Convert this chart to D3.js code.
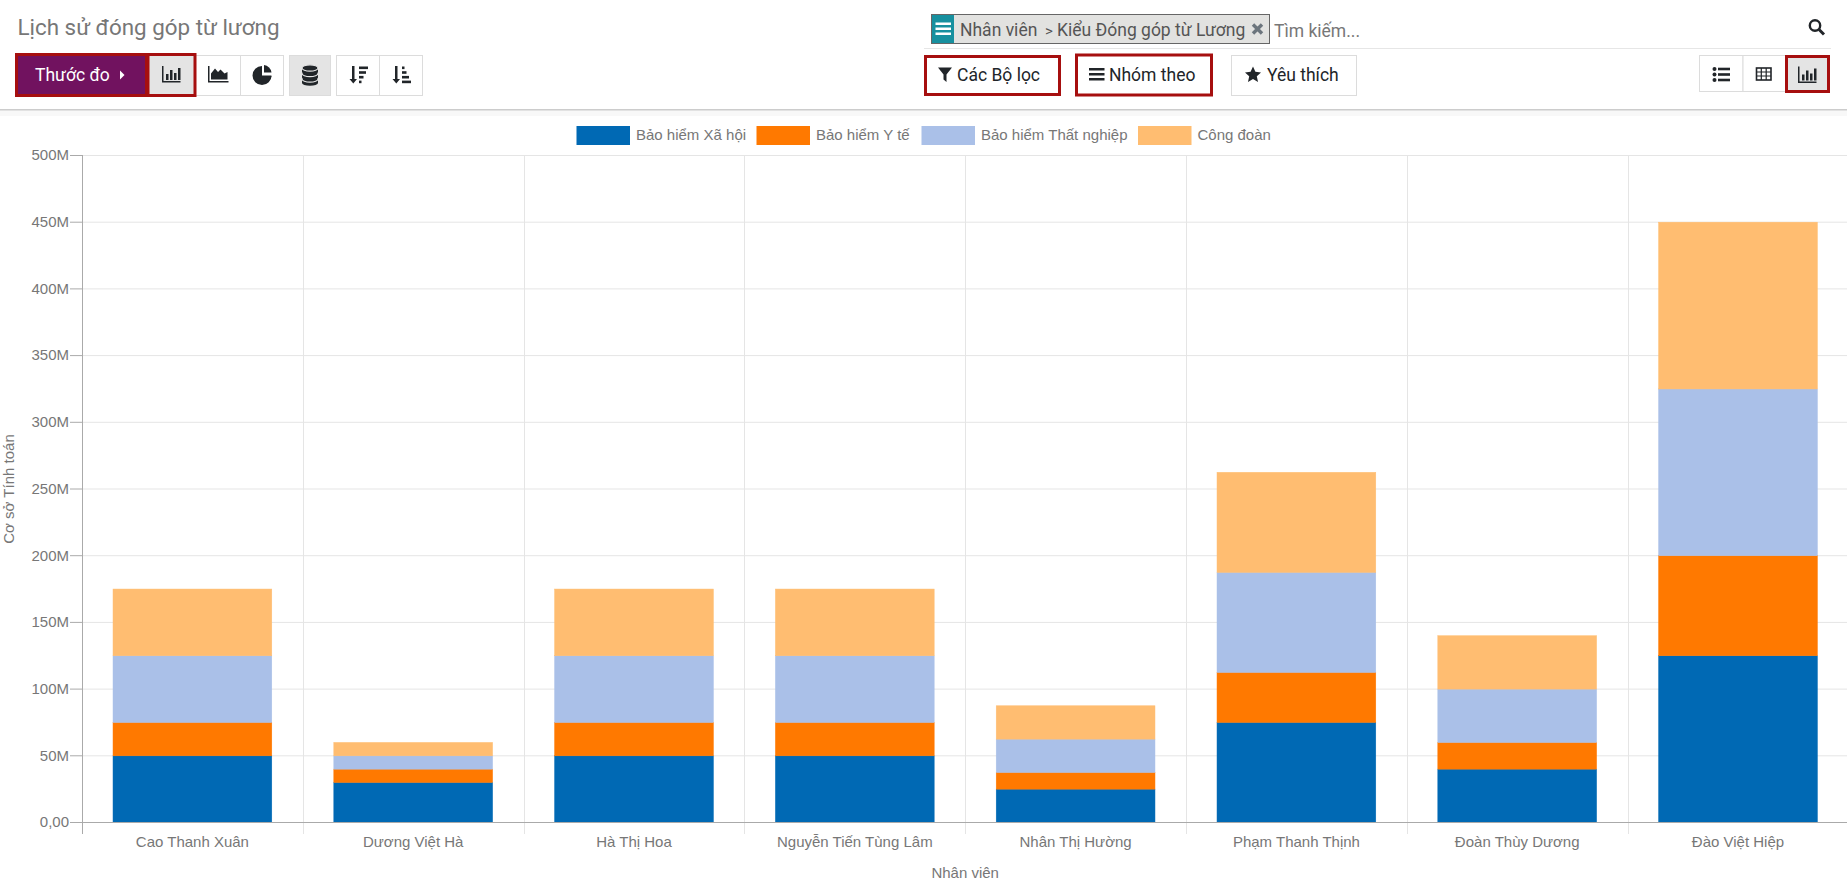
<!DOCTYPE html>
<html>
<head>
<meta charset="utf-8">
<title>Lịch sử đóng góp từ lương</title>
<script src="https://d3js.org/d3.v7.min.js"></script>
<style>
    html, body { margin: 0; padding: 0; background: #fff; overflow: hidden; }
    svg { display: block; }
    .ui { font-family: Roboto, sans-serif; }
    .chart text { font-family: "Liberation Sans", Arial, sans-serif; font-size: 15px; fill: #777; }
    .grid line { stroke: #e5e5e5; }
    .grid path { stroke: none; }
    .axis path, .axis line { stroke: #aaa; }
</style>
</head>
<body>
<div id="chart"></div>
<script>
var categories = ['Cao Thanh Xuân', 'Dương Việt Hà', 'Hà Thị Hoa', 'Nguyễn Tiến Tùng Lâm',
    'Nhân Thị Hường', 'Phạm Thanh Thịnh', 'Đoàn Thùy Dương', 'Đào Việt Hiệp'];
var seriesNames = ['Bảo hiểm Xã hội', 'Bảo hiểm Y tế', 'Bảo hiểm Thất nghiệp', 'Công đoàn'];
var socialInsurance = [50, 30, 50, 50, 25, 75, 40, 125];
var healthInsurance = [25, 10, 25, 25, 12.5, 37.5, 20, 75];
var unemploymentInsurance = [50, 10, 50, 50, 25, 75, 40, 125];
var tradeUnion = [50, 10, 50, 50, 25, 75, 40, 125];
var seriesColors = ['#0069b4', '#ff7900', '#aac0e8', '#ffbd71'];
var yTicks = [0, 50, 100, 150, 200, 250, 300, 350, 400, 450, 500];
var yTitle = 'Cơ sở Tính toán';
var xTitle = 'Nhân viên';

var width = 1847,
    height = 886,
    margin = { top: 155, left: 82, bottom: 64 },
    step = 220.8;

var svg = d3.select('#chart').append('svg')
    .attr('width', width)
    .attr('height', height);

// ---- chart ----
var chartHeight = height - margin.top - margin.bottom;

var xScale = d3.scaleBand()
    .domain(categories)
    .range([0, step * categories.length])
    .paddingInner(0.281)
    .paddingOuter(0.1405);

var bandAxis = d3.scaleBand()
    .domain(categories)
    .range([0, step * categories.length]);

var yScale = d3.scaleLinear()
    .domain([0, 500])
    .range([chartHeight, 0]);

var chartG = svg.append('g')
    .attr('class', 'chart')
    .attr('transform', 'translate(' + margin.left + ',' + margin.top + ')');

// horizontal grid
chartG.append('g')
    .attr('class', 'grid')
    .call(d3.axisLeft(yScale).tickValues(yTicks).tickSize(-step * categories.length).tickFormat(''));

// vertical grid, sits on the band edges
chartG.append('g')
    .attr('class', 'grid')
    .selectAll('line')
    .data(categories)
    .enter()
    .append('line')
    .attr('x1', function (d) { return Math.round(bandAxis(d)) + 0.5; })
    .attr('x2', function (d) { return Math.round(bandAxis(d)) + 0.5; })
    .attr('y1', 0)
    .attr('y2', chartHeight + 12);

// stacks
var rows = categories.map(function (c, i) {
    var row = { name: c };
    row[seriesNames[0]] = socialInsurance[i];
    row[seriesNames[1]] = healthInsurance[i];
    row[seriesNames[2]] = unemploymentInsurance[i];
    row[seriesNames[3]] = tradeUnion[i];
    return row;
});
var stacked = d3.stack().keys(seriesNames)(rows);

// half a pixel down so bar tops line up with the grid lines
chartG.append('g')
    .attr('transform', 'translate(0,0.5)')
    .selectAll('g')
    .data(stacked)
    .enter()
    .append('g')
    .attr('fill', function (d, i) { return seriesColors[i]; })
    .attr('stroke', function (d, i) { return seriesColors[i]; })
    .selectAll('rect')
    .data(function (d) { return d; })
    .enter()
    .append('rect')
    .attr('x', function (d) { return xScale(d.data.name); })
    .attr('y', function (d) { return yScale(d[1]); })
    .attr('width', xScale.bandwidth())
    .attr('height', function (d) { return yScale(d[0]) - yScale(d[1]); })
    .attr('stroke-width', 0.5);

// axes
var yAxisG = chartG.append('g')
    .attr('class', 'axis')
    .call(d3.axisLeft(yScale)
        .tickValues(yTicks)
        .tickSize(12)
        .tickPadding(1)
        .tickFormat(function (d) { return d === 0 ? '0,00' : d + 'M'; }));
yAxisG.selectAll('text').attr('dy', '0.32em');
yAxisG.select('.domain').attr('d', 'M0.5,0V' + (chartHeight + 12));

var xAxisG = chartG.append('g')
    .attr('class', 'axis')
    .attr('transform', 'translate(0,' + chartHeight + ')')
    .call(d3.axisBottom(bandAxis).tickSize(0).tickPadding(14));
xAxisG.select('.domain').attr('d', 'M0,0.5H' + (step * categories.length));

chartG.append('text')
    .attr('transform', 'translate(-68,' + (chartHeight / 2 + 0.5) + ') rotate(-90)')
    .attr('text-anchor', 'middle')
    .text(yTitle);

chartG.append('text')
    .attr('x', step * categories.length / 2)
    .attr('y', chartHeight + 56)
    .attr('text-anchor', 'middle')
    .text(xTitle);

// ---- legend ----
var legendSwatchX = [576.5, 756.5, 921.5, 1138];
var legendG = svg.append('g').attr('class', 'chart');
legendG.selectAll('rect')
    .data(seriesNames)
    .enter()
    .append('rect')
    .attr('x', function (d, i) { return legendSwatchX[i]; })
    .attr('y', 126)
    .attr('width', 53.5)
    .attr('height', 19)
    .attr('fill', function (d, i) { return seriesColors[i]; });
legendG.selectAll('text')
    .data(seriesNames)
    .enter()
    .append('text')
    .attr('x', function (d, i) { return legendSwatchX[i] + 59.5; })
    .attr('y', 140)
    .text(function (d) { return d; });

// ---- control panel ----
var ui = svg.append('g').attr('class', 'ui');
var dark = '#212529', red = '#a60f0f', line = '#dcdcdc', active = '#e4e4e4';

function box(x, y, w, h, fill, stroke, sw) {
    return ui.append('rect')
        .attr('x', x).attr('y', y).attr('width', w).attr('height', h)
        .attr('fill', fill).attr('stroke', stroke).attr('stroke-width', sw || 1);
}
function label(x, y, str, size, color) {
    return ui.append('text')
        .attr('x', x).attr('y', y)
        .attr('font-size', size).attr('fill', color)
        .text(str);
}
function shape(d, color) {
    return ui.append('path').attr('d', d).attr('fill', color || dark);
}
function barIcon(x, y) {
    shape('M' + x + ',' + y + 'h1.5v15h17v1.5h-18.5z' +
        'M' + (x + 4) + ',' + (y + 8) + 'h2.5v6h-2.5z' +
        'M' + (x + 8) + ',' + (y + 4) + 'h2.5v10h-2.5z' +
        'M' + (x + 12) + ',' + (y + 7) + 'h2.5v7h-2.5z' +
        'M' + (x + 16) + ',' + (y + 2) + 'h2.5v12h-2.5z');
}
function hamburger(x, y, w, color) {
    shape('M' + x + ',' + y + 'h' + w + 'v2.5h-' + w + 'z' +
        'M' + x + ',' + (y + 5) + 'h' + w + 'v2.5h-' + w + 'z' +
        'M' + x + ',' + (y + 10) + 'h' + w + 'v2.5h-' + w + 'z', color);
}
function sortIcon(x, y, desc) {
    shape('M' + (x + 2) + ',' + y + 'h2.5v13h2.5l-3.7,4.5l-3.8,-4.5h2.5z');
    var widths = desc ? [9, 7, 4.5, 2.5] : [2.5, 4.5, 7, 9];
    widths.forEach(function (w, i) {
        ui.append('rect').attr('x', x + 9).attr('y', y + i * 4.7 + 0.5)
            .attr('width', w).attr('height', 2.6).attr('fill', dark);
    });
}

label(17.5, 35, 'Lịch sử đóng góp từ lương', 22.4, '#777');

// header separators
ui.append('rect').attr('x', 0).attr('y', 110).attr('width', width).attr('height', 6).attr('fill', '#f8f8f8');
ui.append('rect').attr('x', 0).attr('y', 109).attr('width', width).attr('height', 1.5).attr('fill', '#ccc');
ui.append('rect').attr('x', 924).attr('y', 48).attr('width', 907).attr('height', 1).attr('fill', '#e6e6e6');

// left toolbar
box(194.5, 55.5, 46, 40, '#fff', line);
box(240.5, 55.5, 43, 40, '#fff', line);
box(289.5, 55.5, 41, 40, active, line);
box(336.5, 55.5, 43, 40, '#fff', line);
box(379.5, 55.5, 43, 40, '#fff', line);
box(148, 54.5, 47, 41, active, red, 3);
box(16.5, 54.5, 130, 41, '#71125f', red, 3);
label(35, 80.5, 'Thước đo', 17.5, '#fff');
shape('M120,70.5l4.5,4.5l-4.5,4.5z', '#fff');
barIcon(162, 66);

// area icon
shape('M208,66h1.5v15h19v1.5h-20.5z' +
    'M211,79.5v-6l4,-5l3,3.5l2.5,-2.5l4,4l3,-1.5v7.5z');

// pie icon
shape('M262,66a9.5,9.5 0 1 0 9.5,9.5h-9.5z');
shape('M264,65a8.5,8.5 0 0 1 7.5,7.5h-7.5z');
shape('M266,76h5.5a8.5,8.5 0 0 1 -2,4.5z');

// stack icon, drawn bottom layer first so each disc leaves a pale gap
[11, 5.5, 0].forEach(function (dy) {
    ui.append('rect').attr('x', 302).attr('y', 68 + dy).attr('width', 16).attr('height', 4).attr('fill', dark);
    ui.append('ellipse').attr('cx', 310).attr('cy', 72 + dy).attr('rx', 8).attr('ry', 2.8).attr('fill', dark);
    ui.append('ellipse').attr('cx', 310).attr('cy', 68 + dy).attr('rx', 8).attr('ry', 3.2)
        .attr('fill', dark).attr('stroke', active).attr('stroke-width', 1.2);
});
sortIcon(350, 66, true);
sortIcon(393, 66, false);

// search facet
box(931.5, 14.5, 338, 29, '#e2e2e0', '#666');
box(932, 15, 22, 28, '#17909f', 'none');
hamburger(935.5, 22.5, 15.5, '#fff');
label(960, 35.5, 'Nhân viên', 17.5, '#555');
label(1045, 35.5, '>', 15, '#555');
label(1057, 35.5, 'Kiểu Đóng góp từ Lương', 17.5, '#555');
ui.append('path').attr('d', 'M1253,24.5l9,9M1262,24.5l-9,9')
    .attr('stroke', '#6c757d').attr('stroke-width', 3.4).attr('fill', 'none');
label(1274, 36.5, 'Tìm kiếm...', 17.5, '#777');

// search icon
ui.append('circle').attr('cx', 1815).attr('cy', 25.5).attr('r', 5.2)
    .attr('fill', 'none').attr('stroke', dark).attr('stroke-width', 2.4);
ui.append('line').attr('x1', 1819).attr('y1', 29.5).attr('x2', 1824).attr('y2', 34.5)
    .attr('stroke', dark).attr('stroke-width', 3);

// filter buttons
box(925.5, 56.5, 134, 38, '#fff', red, 3);
shape('M938,67.5h14l-5.5,7v7.5l-3,-2.5v-5z');
label(957, 80.5, 'Các Bộ lọc', 17.5, dark);

box(1076.5, 55, 135, 40, '#fff', red, 3);
hamburger(1089, 68, 15.5);
label(1109, 80.5, 'Nhóm theo', 17.5, dark);

box(1231.5, 55.5, 125, 40, '#fff', line);
shape('M1253,66.5l2.4,5.3l5.6,0.6l-4.2,3.9l1.2,5.7l-5,-2.9l-5,2.9l1.2,-5.7l-4.2,-3.9l5.6,-0.6z');
label(1267, 80.5, 'Yêu thích', 17.5, dark);

// view switcher
box(1699.5, 55.5, 43.5, 36, '#fff', line);
box(1743, 55.5, 43, 36, '#fff', line);
box(1786.5, 56.5, 42, 35, active, red, 3);

// list icon
[0, 5.5, 11].forEach(function (dy) {
    ui.append('circle').attr('cx', 1714.5).attr('cy', 69 + dy).attr('r', 2).attr('fill', dark);
    ui.append('rect').attr('x', 1718).attr('y', 67.7 + dy).attr('width', 12).attr('height', 2.6).attr('fill', dark);
});

// grid icon
ui.append('rect').attr('x', 1756.5).attr('y', 68).attr('width', 14.5).attr('height', 12)
    .attr('fill', 'none').attr('stroke', dark).attr('stroke-width', 1.6);
ui.append('path').attr('d', 'M1756.5,72H1771M1756.5,76H1771M1761.3,68V80M1766.2,68V80')
    .attr('stroke', dark).attr('stroke-width', 1.2).attr('fill', 'none');
barIcon(1798, 66.5);
</script>
</body>
</html>
